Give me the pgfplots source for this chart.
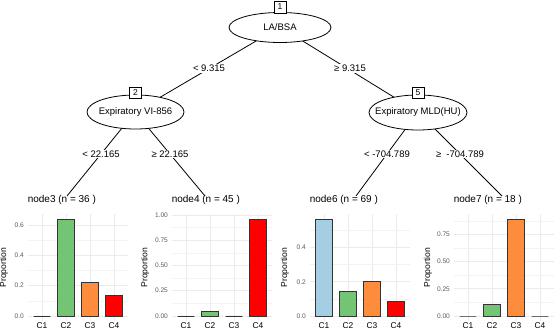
\documentclass[border=0pt]{standalone}
\usepackage{pgfplots}
\pgfplotsset{compat=1.18}
\usepackage{fontspec}
\setmainfont{Liberation Sans}
\newcommand\fs[1]{\fontsize{#1bp}{#1bp}\selectfont}
\definecolor{cA}{HTML}{A6CEE3}
\definecolor{cB}{HTML}{74C476}
\definecolor{cC}{HTML}{FD8D3C}
\definecolor{cD}{HTML}{FF0000}
\definecolor{gridmaj}{HTML}{EBEBEB}
\definecolor{gridmin}{HTML}{F3F3F3}
\definecolor{tickgray}{HTML}{5A5A5A}
\definecolor{barline}{HTML}{333333}
\pgfplotsset{
  ylabshift/.initial=-23.6bp,
  panel/.style={
    scale only axis, width=100.8bp, height=106.4bp, anchor=south west,
    xmin=0.4, xmax=4.6, xtick={1,2,3,4}, xticklabels={C1,C2,C3,C4},
    axis line style={draw=none}, major tick length=0pt, minor tick length=0pt,
    xmajorgrids=true, ymajorgrids=true, yminorgrids=true,
    major grid style={color=gridmaj, line width=0.6bp},
    minor grid style={color=gridmin, line width=0.4bp},
    /pgf/number format/assume math mode=true,
    yticklabel style={font=\fs{6.6}, text=tickgray, anchor=east, inner sep=0pt, xshift=-3.5bp},
    xticklabel style={font=\fs{8.4}, text=black, anchor=north, inner sep=0pt, yshift=-1.5bp},
    ylabel={Proportion},
    every axis y label/.style={at={(axis description cs:0,0.5)}, xshift=\pgfkeysvalueof{/pgfplots/ylabshift}, rotate=90, anchor=center, font=\fs{8.6}},
    title style={at={(axis description cs:0,1)}, anchor=south west, inner sep=0pt, yshift=4bp, font=\fs{10}},
    clip=false,
  },
  bar/.style={ybar, bar width=16.8bp, bar shift=0pt, draw=barline, line width=0.8bp},
}
\begin{document}
\begin{tikzpicture}
\useasboundingbox (0bp,0bp) rectangle (554bp,329bp);
\begin{scope}[x=1bp, y=-1bp, shift={(0,-329)}]
% edges
\draw[line width=0.8bp] (280,27) -- (135,112);
\draw[line width=0.8bp] (280,27) -- (418,112);
\draw[line width=0.8bp] (135,112) -- (67,196);
\draw[line width=0.8bp] (135,112) -- (205,196);
\draw[line width=0.8bp] (418,112) -- (356,196);
\draw[line width=0.8bp] (418,112) -- (502,196);
% inner nodes
\draw[fill=white, line width=0.8bp] (280,27.5) ellipse [x radius=51, y radius=15];
\draw[fill=white, line width=0.8bp] (135.5,112) ellipse [x radius=48.5, y radius=17];
\draw[fill=white, line width=0.8bp] (418,112.5) ellipse [x radius=49, y radius=17.5];
\node[font=\fs{9.5}] at (280,27.5) {LA/BSA};
\node[font=\fs{9.5}] at (135.5,112) {Expiratory VI-856};
\node[font=\fs{9.5}] at (418,112.5) {Expiratory MLD(HU)};
\node[draw, fill=white, line width=0.7bp, minimum width=12bp, minimum height=12bp, inner sep=0pt, font=\fs{8.5}] at (280,7) {1};
\node[draw, fill=white, line width=0.7bp, minimum width=12bp, minimum height=11bp, inner sep=0pt, font=\fs{8.5}] at (135.5,93) {2};
\node[draw, fill=white, line width=0.7bp, minimum width=12bp, minimum height=11bp, inner sep=0pt, font=\fs{8.5}] at (418,93) {5};
% edge labels
\node[fill=white, inner sep=1bp, font=\fs{9.5}] at (209,68.5) {< 9.315};
\node[fill=white, inner sep=1bp, font=\fs{9.5}] at (350,68.5) {≥ 9.315};
\node[fill=white, inner sep=1bp, font=\fs{9.5}] at (101,154) {< 22.165};
\node[fill=white, inner sep=1bp, font=\fs{9.5}] at (170,154) {≥ 22.165};
\node[fill=white, inner sep=1bp, font=\fs{9.5}] at (387,154) {< -704.789};
\node[fill=white, inner sep=1bp, font=\fs{9.5}] at (460,154) {≥\ \ -704.789};
\end{scope}
% panel node3
\begin{axis}[panel, ylabshift=-23.6bp, at={(27.6bp,8.2bp)}, ymin=-0.032, ymax=0.671,
  ytick={0,0.2,0.4,0.6}, yticklabels={0.0,0.2,0.4,0.6}, minor ytick={0.1,0.3,0.5},
  title={node3 (n = 36 )}]
\addplot[bar, fill=cA] coordinates {(1,0)};
\addplot[bar, fill=cB] coordinates {(2,0.639)};
\addplot[bar, fill=cC] coordinates {(3,0.222)};
\addplot[bar, fill=cD] coordinates {(4,0.139)};
\end{axis}
% panel node4
\begin{axis}[panel, ylabshift=-26.5bp, at={(171.6bp,8.2bp)}, ymin=-0.048, ymax=1.004,
  ytick={0,0.25,0.5,0.75,1}, yticklabels={0.00,0.25,0.50,0.75,1.00}, minor ytick={0.125,0.375,0.625,0.875},
  title={node4 (n = 45 )}]
\addplot[bar, fill=cA] coordinates {(1,0)};
\addplot[bar, fill=cB] coordinates {(2,0.044)};
\addplot[bar, fill=cC] coordinates {(3,0)};
\addplot[bar, fill=cD] coordinates {(4,0.956)};
\end{axis}
% panel node6
\begin{axis}[panel, ylabshift=-24.6bp, at={(309.6bp,8.2bp)}, ymin=-0.028, ymax=0.593,
  ytick={0,0.2,0.4}, yticklabels={0.0,0.2,0.4}, minor ytick={0.1,0.3,0.5},
  title={node6 (n = 69 )}]
\addplot[bar, fill=cA] coordinates {(1,0.565)};
\addplot[bar, fill=cB] coordinates {(2,0.145)};
\addplot[bar, fill=cC] coordinates {(3,0.203)};
\addplot[bar, fill=cD] coordinates {(4,0.087)};
\end{axis}
% panel node7
\begin{axis}[panel, ylabshift=-25.6bp, at={(453.6bp,8.2bp)}, ymin=-0.044, ymax=0.933,
  ytick={0,0.25,0.5,0.75}, yticklabels={0.00,0.25,0.50,0.75}, minor ytick={0.125,0.375,0.625,0.875},
  title={node7 (n = 18 )}]
\addplot[bar, fill=cA] coordinates {(1,0)};
\addplot[bar, fill=cB] coordinates {(2,0.111)};
\addplot[bar, fill=cC] coordinates {(3,0.889)};
\addplot[bar, fill=cD] coordinates {(4,0)};
\end{axis}
\end{tikzpicture}
\end{document}
